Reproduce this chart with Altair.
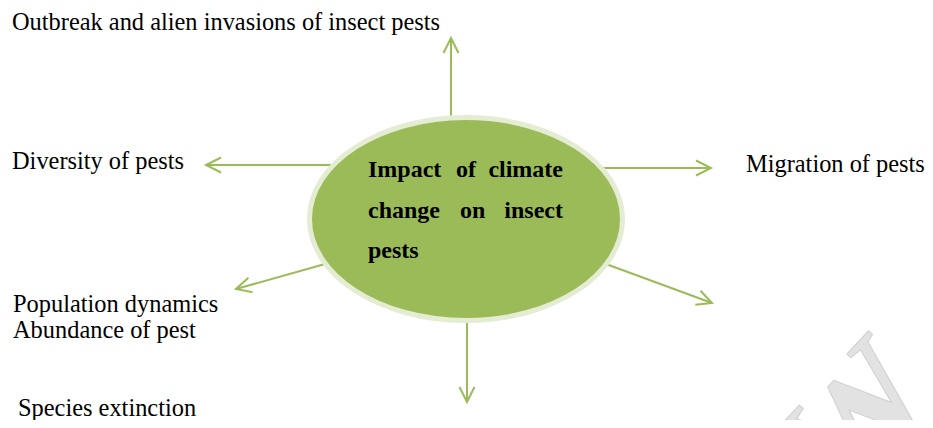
import math
import altair as alt
import pandas as pd

# ---- content ----
center_words_left = ["Impact", "of", "change", "on", "pests"]
center_words_right = ["climate", "insect"]
outer_labels = [
    "Outbreak and alien invasions of insect pests",
    "Diversity of pests",
    "Migration of pests",
    "Population dynamics",
    "Abundance of pest",
    "Species extinction",
]
watermark = ["REVIEW"]

# ---- layout (picture pixel coordinates) ----
center_left_x = [368, 456, 368, 460, 368]
center_left_y = [177, 177, 218, 218, 258]
center_right_x = [563, 563]
center_right_y = [177, 218]
outer_x = [12, 12, 746, 13, 13, 18]
outer_y = [30, 169, 172, 312, 338, 416]
arrow_x1 = [451, 333, 600, 325, 606, 467]
arrow_y1 = [118, 165, 168, 264, 264, 322]
arrow_x2 = [451, 206, 711, 236, 712, 467]
arrow_y2 = [38, 165, 168, 289, 303, 402]
ellipse_cx = [466]
ellipse_cy = [219]

GREEN = "#9BBB59"
W, H = 917, 412
xs = alt.Scale(domain=[8, 8 + W], nice=False, zero=False)
ys = alt.Scale(domain=[8, 8 + H], nice=False, zero=False, reverse=True)

arrows = pd.DataFrame({"x1": arrow_x1, "y1": arrow_y1, "x2": arrow_x2, "y2": arrow_y2})
arrows["ang"] = [
    (math.degrees(math.atan2(b2 - b1, a2 - a1)) + 360) % 360
    for a1, b1, a2, b2 in zip(arrow_x1, arrow_y1, arrow_x2, arrow_y2)
]

shafts = alt.Chart(arrows).mark_rule(color=GREEN, strokeWidth=2).encode(
    x=alt.X("x1:Q", scale=xs, axis=None),
    y=alt.Y("y1:Q", scale=ys, axis=None),
    x2="x2:Q",
    y2="y2:Q",
)

chevron = "M-1,-0.5L0,0L-1,0.5"
heads = alt.Chart(arrows).mark_point(
    shape=chevron, size=225 * 4, filled=False, stroke=GREEN, strokeWidth=2, opacity=1
).encode(
    x=alt.X("x2:Q", scale=xs, axis=None),
    y=alt.Y("y2:Q", scale=ys, axis=None),
    angle=alt.Angle("ang:Q", scale=None),
)

b = 101.5 / 156.5
k = 0.5523
kb = k * b
ell_path = (
    f"M1,0C1,{kb:.4f} {k},{b:.4f} 0,{b:.4f}"
    f"C-{k},{b:.4f} -1,{kb:.4f} -1,0"
    f"C-1,-{kb:.4f} -{k},-{b:.4f} 0,-{b:.4f}"
    f"C{k},-{b:.4f} 1,-{kb:.4f} 1,0Z"
)
ellipse = alt.Chart(pd.DataFrame({"x": ellipse_cx, "y": ellipse_cy})).mark_point(
    shape=ell_path, size=313 ** 2, filled=True, fill=GREEN, stroke="#E4ECD3",
    strokeWidth=5, opacity=1, fillOpacity=1,
).encode(
    x=alt.X("x:Q", scale=xs, axis=None),
    y=alt.Y("y:Q", scale=ys, axis=None),
)

font = "Liberation Serif"

cl = alt.Chart(pd.DataFrame({"t": center_words_left, "x": center_left_x, "y": center_left_y})).mark_text(
    font=font, fontSize=24, fontWeight="bold", color="#000000", align="left", baseline="alphabetic"
).encode(x=alt.X("x:Q", scale=xs, axis=None), y=alt.Y("y:Q", scale=ys, axis=None), text="t:N")

cr = alt.Chart(pd.DataFrame({"t": center_words_right, "x": center_right_x, "y": center_right_y})).mark_text(
    font=font, fontSize=24, fontWeight="bold", color="#000000", align="right", baseline="alphabetic"
).encode(x=alt.X("x:Q", scale=xs, axis=None), y=alt.Y("y:Q", scale=ys, axis=None), text="t:N")

outer = alt.Chart(pd.DataFrame({"t": outer_labels, "x": outer_x, "y": outer_y})).mark_text(
    font=font, fontSize=24.4, color="#000000", align="left", baseline="alphabetic"
).encode(x=alt.X("x:Q", scale=xs, axis=None), y=alt.Y("y:Q", scale=ys, axis=None), text="t:N")

wm = alt.Chart(pd.DataFrame({"t": watermark, "x": [942], "y": [396]})).mark_text(
    font=font, fontSize=150, fontWeight="bold", fill="#E2E2E2", stroke="#D0D0D0", strokeWidth=1,
    align="right", baseline="alphabetic", angle=313,
).encode(x=alt.X("x:Q", scale=xs, axis=None), y=alt.Y("y:Q", scale=ys, axis=None), text="t:N")

chart = alt.layer(wm, shafts, heads, ellipse, cl, cr, outer).properties(
    width=W, height=H, padding=0, autosize=alt.AutoSizeParams(type="none"), background="white"
).configure_view(stroke=None)

chart.save("out.html", embed_options={"renderer": "svg", "actions": False})
